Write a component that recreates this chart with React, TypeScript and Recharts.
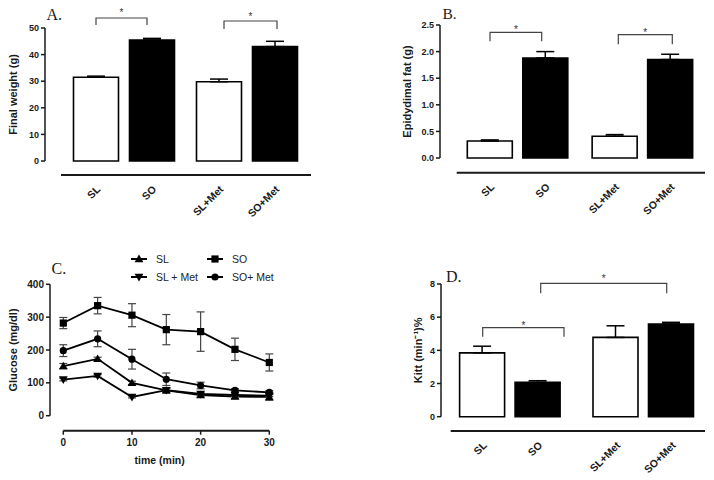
import React from 'react';
import { BarChart, Bar, LineChart, Line, XAxis, YAxis, ErrorBar, Legend } from 'recharts';

// ---------- data ----------
const barCategories = ['SL', 'SO', 'SL+Met', 'SO+Met'];

const finalWeight = [31.5, 45.5, 29.8, 43.0];
const finalWeightErr = [0.4, 0.6, 1.0, 2.0];
const ticksA = [0, 10, 20, 30, 40, 50];

const epididymalFat = [0.32, 1.88, 0.41, 1.85];
const epididymalFatErr = [0.02, 0.12, 0.03, 0.1];
const ticksB = [0, 0.5, 1.0, 1.5, 2.0, 2.5];

const kitt = [3.85, 2.07, 4.78, 5.59];
const kittErr = [0.4, 0.1, 0.7, 0.1];
const ticksD = [0, 2, 4, 6, 8];

const timeMin = [0, 5, 10, 15, 20, 25, 30];
const glucoseSL = [151, 173, 100, 77, 63, 58, 57];
const glucoseSLErr = [8, 5, 5, 8, 6, 6, 10];
const glucoseSO = [282, 335, 306, 262, 256, 202, 162];
const glucoseSOErr = [17, 25, 35, 46, 60, 34, 26];
const glucoseSLMet = [110, 121, 57, 78, 66, 63, 61];
const glucoseSLMetErr = [4, 4, 3, 5, 3, 3, 3];
const glucoseSOMet = [198, 234, 172, 111, 92, 77, 71];
const glucoseSOMetErr = [18, 24, 30, 19, 10, 5, 5];
const ticksC = [0, 100, 200, 300, 400];
const ticksCx = [0, 10, 20, 30];

const seriesNames = ['SL', 'SO', 'SL + Met', 'SO+ Met'];
const seriesShapes: Record<string, string> = {
  'SL': 'triangle',
  'SO': 'square',
  'SL + Met': 'triangleDown',
  'SO+ Met': 'circle',
};

// ---------- helpers ----------
const FONT = '"Liberation Sans", Arial, Helvetica, sans-serif';
const SERIF = '"Liberation Serif", "Times New Roman", serif';
const INK = '#1a1a1a';

function toGroups(vals: number[], errs: number[]) {
  return [0, 1].map((g) => ({
    group: 'g' + g,
    white: vals[2 * g],
    whiteErr: [0, errs[2 * g]],
    black: vals[2 * g + 1],
    blackErr: [0, errs[2 * g + 1]],
  }));
}

const glucoseData = timeMin.map((t, i) => ({
  t,
  sl: glucoseSL[i],
  slErr: glucoseSLErr[i],
  so: glucoseSO[i],
  soErr: glucoseSOErr[i],
  slm: glucoseSLMet[i],
  slmErr: glucoseSLMetErr[i],
  som: glucoseSOMet[i],
  somErr: glucoseSOMetErr[i],
}));

function Marker({ shape, cx, cy }: { shape: string; cx: number; cy: number }) {
  if (shape === 'square') {
    return <rect x={cx - 3.6} y={cy - 3.6} width={7.2} height={7.2} fill="#000" />;
  }
  if (shape === 'triangle') {
    return <path d={`M${cx},${cy - 4.4} L${cx + 4.4},${cy + 3.2} L${cx - 4.4},${cy + 3.2} Z`} fill="#000" />;
  }
  if (shape === 'triangleDown') {
    return <path d={`M${cx},${cy + 4.4} L${cx + 4.4},${cy - 3.2} L${cx - 4.4},${cy - 3.2} Z`} fill="#000" />;
  }
  return <circle cx={cx} cy={cy} r={3.6} fill="#000" />;
}

const makeDot = (shape: string) => (p: any) => (
  <Marker key={`dot-${shape}-${p.index}`} shape={shape} cx={p.cx} cy={p.cy} />
);

const makeCatTick = (offset: number, dx: number, dy: number) => (props: any) => {
  const { x, y, index } = props;
  const names = [barCategories[index * 2], barCategories[index * 2 + 1]];
  return (
    <g>
      {names.map((n, k) => {
        const tx = x + (k === 0 ? -offset : offset) + dx;
        const ty = y + dy;
        return (
          <text
            key={n}
            x={tx}
            y={ty}
            textAnchor="end"
            transform={`rotate(-45 ${tx} ${ty})`}
            fontSize={10.5}
            fontWeight="bold"
            fill={INK}
            fontFamily={FONT}
          >
            {n}
          </text>
        );
      })}
    </g>
  );
};

const yTickStyle = { fontSize: 9, fontWeight: 'bold', fill: INK, fontFamily: FONT };
const yLabelStyle = { fontSize: 11, fontWeight: 'bold', fill: INK, fontFamily: FONT, textAnchor: 'middle' as const };

type BarPanelProps = {
  vals: number[];
  errs: number[];
  ticks: number[];
  fmt?: (v: number) => string;
  yLabel: string;
  width: number;
  height: number;
  margin: { top: number; right: number; left: number; bottom: number };
  yAxisWidth: number;
  gap: number;
  lineAxisHeight: number;
  padL: number;
  padR: number;
  barSize: number;
  barGap: number;
  dash: string;
  labelDx: number;
};

function BarPanel(p: BarPanelProps) {
  const data = toGroups(p.vals, p.errs);
  const offset = (p.barSize + p.barGap) / 2;
  const max = p.ticks[p.ticks.length - 1];
  return (
    <BarChart
      width={p.width}
      height={p.height}
      data={data}
      margin={p.margin}
      barSize={p.barSize}
      barGap={p.barGap}
    >
      <XAxis
        xAxisId="g"
        dataKey="group"
        height={p.gap}
        axisLine={false}
        tickLine={false}
        tick={false}
        padding={{ left: p.padL, right: p.padR }}
      />
      <XAxis
        xAxisId="l"
        dataKey="group"
        height={p.lineAxisHeight}
        axisLine={{ stroke: INK, strokeWidth: 2, strokeDasharray: p.dash }}
        tickLine={false}
        tickSize={0}
        tickMargin={0}
        interval={0}
        tick={makeCatTick(offset, 5, 15)}
        padding={{ left: p.padL, right: p.padR }}
      />
      <YAxis
        type="number"
        width={p.yAxisWidth}
        domain={[0, max]}
        ticks={p.ticks}
        interval={0}
        tickFormatter={p.fmt}
        tickSize={4}
        tickMargin={2}
        tick={yTickStyle}
        axisLine={{ stroke: INK, strokeWidth: 1.5 }}
        tickLine={{ stroke: INK, strokeWidth: 1.5 }}
        label={{ value: p.yLabel, angle: -90, position: 'center', dx: p.labelDx, style: yLabelStyle }}
      />
      <Bar xAxisId="g" dataKey="white" fill="#fff" stroke="#000" strokeWidth={1.6} isAnimationActive={false}>
        <ErrorBar dataKey="whiteErr" direction="y" width={9} stroke="#000" strokeWidth={1.5} />
      </Bar>
      <Bar xAxisId="g" dataKey="black" fill="#000" stroke="#000" strokeWidth={1.6} isAnimationActive={false}>
        <ErrorBar dataKey="blackErr" direction="y" width={9} stroke="#000" strokeWidth={1.5} />
      </Bar>
    </BarChart>
  );
}

function GlucoseLegend(props: any) {
  const payload = [...(props.payload || [])].sort(
    (a: any, b: any) => seriesNames.indexOf(a.value) - seriesNames.indexOf(b.value)
  );
  return (
    <div
      style={{
        display: 'grid',
        gridTemplateColumns: '76px 90px',
        fontFamily: FONT,
        fontSize: 10.5,
        color: '#222',
      }}
    >
      {payload.map((e: any) => (
        <div key={e.value} style={{ display: 'flex', alignItems: 'center', height: 18.3, whiteSpace: 'nowrap' }}>
          <svg width={16} height={12} style={{ display: 'block' }}>
            <line x1={0} y1={6} x2={16} y2={6} stroke="#000" strokeWidth={2} />
            <Marker shape={seriesShapes[e.value]} cx={8} cy={6} />
          </svg>
          <span style={{ marginLeft: 9 }}>{e.value}</span>
        </div>
      ))}
    </div>
  );
}

function GlucosePanel() {
  const lineProps = { stroke: '#000', strokeWidth: 1.8, isAnimationActive: false, activeDot: false, xAxisId: 'g' };
  const eb = { direction: 'y' as const, width: 4, stroke: '#444', strokeWidth: 1.2 };
  return (
    <LineChart width={300} height={240} data={glucoseData} margin={{ top: 44.3, right: 30.7, left: 0, bottom: 9.3 }}>
      <XAxis
        xAxisId="g"
        dataKey="t"
        type="number"
        domain={[0, 30]}
        height={15}
        axisLine={false}
        tickLine={false}
        tick={false}
        padding={{ left: 13.3, right: 0 }}
      />
      <XAxis
        xAxisId="l"
        dataKey="t"
        type="number"
        domain={[0, 30]}
        ticks={ticksCx}
        interval={0}
        height={40}
        padding={{ left: 13.3, right: 0 }}
        axisLine={{ stroke: INK, strokeWidth: 2, strokeDasharray: '0 13.3 206 500' }}
        tickLine={{ stroke: INK, strokeWidth: 1.5 }}
        tickSize={4}
        tickMargin={4}
        tick={{ fontSize: 10, fontWeight: 'bold', fill: INK, fontFamily: FONT }}
        label={{ value: 'time (min)', position: 'insideBottom', offset: 7, style: { ...yLabelStyle, fontSize: 10.5 } }}
      />
      <YAxis
        type="number"
        width={50}
        domain={[0, 400]}
        ticks={ticksC}
        interval={0}
        tickSize={4}
        tickMargin={2}
        tick={{ ...yTickStyle, fontSize: 10 }}
        axisLine={{ stroke: INK, strokeWidth: 1.5 }}
        tickLine={{ stroke: INK, strokeWidth: 1.5 }}
        label={{ value: 'Glucose (mg/dl)', angle: -90, position: 'center', dx: -12, style: yLabelStyle }}
      />
      <Legend
        verticalAlign="middle"
        align="center"
        layout="horizontal"
        content={GlucoseLegend}
        wrapperStyle={{ left: 131, top: 10, width: 170, height: 38 }}
      />
      <Line {...lineProps} name="SL" dataKey="sl" dot={makeDot('triangle')}>
        <ErrorBar dataKey="slErr" {...eb} />
      </Line>
      <Line {...lineProps} name="SO" dataKey="so" dot={makeDot('square')}>
        <ErrorBar dataKey="soErr" {...eb} />
      </Line>
      <Line {...lineProps} name="SL + Met" dataKey="slm" dot={makeDot('triangleDown')}>
        <ErrorBar dataKey="slmErr" {...eb} />
      </Line>
      <Line {...lineProps} name="SO+ Met" dataKey="som" dot={makeDot('circle')}>
        <ErrorBar dataKey="somErr" {...eb} />
      </Line>
    </LineChart>
  );
}

function Bracket({ x1, x2, top, end, starY }: { x1: number; x2: number; top: number; end: number; starY: number }) {
  return (
    <g>
      <path d={`M${x1},${end} L${x1},${top} L${x2},${top} L${x2},${end}`} fill="none" stroke="#444" strokeWidth={1.2} />
      <text x={(x1 + x2) / 2} y={starY} textAnchor="middle" fontSize={10} fill="#333" fontFamily={FONT}>
        *
      </text>
    </g>
  );
}

export default function App() {
  const box = (left: number, top: number, w: number, h: number): React.CSSProperties => ({
    position: 'absolute',
    left,
    top,
    width: w,
    height: h,
  });
  return (
    <div style={{ position: 'absolute', left: 0, top: 0, width: 714, height: 480, background: '#fff', overflow: 'hidden' }}>
      <div style={box(0, 0, 330, 240)}>
        <BarPanel
          vals={finalWeight}
          errs={finalWeightErr}
          ticks={ticksA}
          yLabel="Final weight (g)"
          width={330}
          height={240}
          margin={{ top: 28, right: 19, left: 0, bottom: 5 }}
          yAxisWidth={45}
          gap={14}
          lineAxisHeight={60}
          padL={17.5}
          padR={2.5}
          barSize={45}
          barGap={11}
          dash="0 16 250 500"
          labelDx={-9.5}
        />
      </div>
      <div style={box(360, 0, 354, 240)}>
        <BarPanel
          vals={epididymalFat}
          errs={epididymalFatErr}
          ticks={ticksB}
          fmt={(v: number) => v.toFixed(1)}
          yLabel="Epidydimal fat (g)"
          width={354}
          height={240}
          margin={{ top: 25, right: 9, left: 0, bottom: 7.3 }}
          yAxisWidth={80}
          gap={14.7}
          lineAxisHeight={60}
          padL={15.3}
          padR={0}
          barSize={45}
          barGap={10.5}
          dash="0 16.7 250 500"
          labelDx={7}
        />
      </div>
      <div style={box(0, 240, 300, 240)}>
        <GlucosePanel />
      </div>
      <div style={box(360, 240, 354, 240)}>
        <BarPanel
          vals={kitt}
          errs={kittErr}
          ticks={ticksD}
          yLabel="Kitt (min⁻¹)%"
          width={354}
          height={240}
          margin={{ top: 44, right: 3.6, left: 0, bottom: 4 }}
          yAxisWidth={81}
          gap={14.3}
          lineAxisHeight={45}
          padL={2.6}
          padR={0}
          barSize={45}
          barGap={10.5}
          dash="0 9.7 254.3 500"
          labelDx={17.5}
        />
      </div>
      <svg
        width={714}
        height={480}
        style={{ position: 'absolute', left: 0, top: 0, pointerEvents: 'none' }}
      >
        <text x={46.5} y={20} fontSize={16} fontFamily={SERIF} fill={INK}>A.</text>
        <text x={442.5} y={18.5} fontSize={15.5} fontFamily={SERIF} fill={INK}>B.</text>
        <text x={51.5} y={273.5} fontSize={16} fontFamily={SERIF} fill={INK}>C.</text>
        <text x={446} y={282} fontSize={16} fontFamily={SERIF} fill={INK}>D.</text>
        <Bracket x1={96} x2={147} top={18} end={25} starY={15.5} />
        <Bracket x1={224} x2={277} top={21} end={29} starY={19.5} />
        <Bracket x1={490} x2={541.7} top={32.3} end={41.3} starY={32.5} />
        <Bracket x1={618.3} x2={672.3} top={34.7} end={44.3} starY={35.5} />
        <Bracket x1={482.7} x2={564} top={327.7} end={336.7} starY={328.5} />
        <Bracket x1={540.7} x2={666.7} top={283.3} end={293.3} starY={281.5} />
      </svg>
    </div>
  );
}
